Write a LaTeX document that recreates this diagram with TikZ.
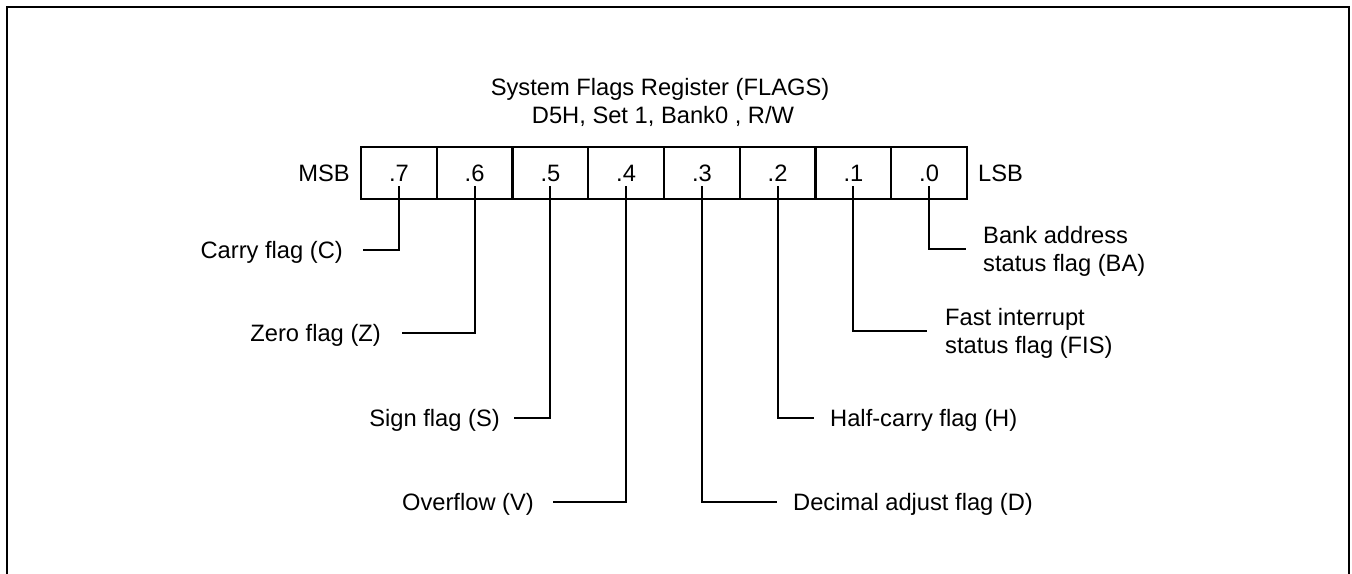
\documentclass[tikz,border=0pt]{standalone}
\usepackage{fontspec}
\setmainfont{Liberation Sans}
\begin{document}
\begin{tikzpicture}[x=1pt,y=-1pt,
  every node/.style={font=\fontsize{23.7pt}{28pt}\selectfont},
  cell/.style={draw, line width=2pt, minimum width=75.75pt, minimum height=52pt, inner sep=0pt, text height=17pt, text depth=0pt},
  lab/.style={inner sep=0pt, text height=17pt, text depth=0pt, align=left},
  lab2/.style={inner sep=0pt, text height=45pt, text depth=0pt, align=left},
  conn/.style={line width=2pt},
  frame/.style={line width=2.2pt}]
\useasboundingbox (0,0) rectangle (1352,573);
% outer frame (open at bottom edge of the view)
\draw[frame] (7,575) -- (7,7) -- (1349,7) -- (1349,575);
% title
\node[anchor=base] (t1) at (660,95) {System Flags Register (FLAGS)};
\node[anchor=base] (t2) at (663,123) {D5H, Set 1, Bank0 , R/W};
% register cells
\node[cell] (c7) at (398.9,173) {.7};
\node[cell] (c6) at (474.6,173) {.6};
\node[cell] (c5) at (550.4,173) {.5};
\node[cell] (c4) at (626.1,173) {.4};
\node[cell] (c3) at (701.9,173) {.3};
\node[cell] (c2) at (777.6,173) {.2};
\node[cell] (c1) at (853.4,173) {.1};
\node[cell] (c0) at (929.1,173) {.0};
\node[lab, anchor=east] (msb) at (350,173) {MSB};
\node[lab, anchor=west] (lsb) at (978,173) {LSB};
% start points of the connectors
\foreach \i in {0,...,7} { \coordinate (s\i) at ([yshift=14pt]c\i.south); }
% labels
\node[lab, anchor=east] (l7) at (343,250) {Carry flag (C)};
\node[lab, anchor=east] (l6) at (381,333) {Zero flag (Z)};
\node[lab, anchor=east] (l5) at (500,418) {Sign flag (S)};
\node[lab, anchor=east] (l4) at (534,502) {Overflow (V)};
\node[lab, anchor=west] (l3) at (793,502) {Decimal adjust flag (D)};
\node[lab, anchor=west] (l2) at (830,418) {Half-carry flag (H)};
\node[lab2, anchor=west] (l1) at (945,331) {Fast interrupt\\status flag (FIS)};
\node[lab2, anchor=west] (l0) at (983,249) {Bank address\\status flag (BA)};
% connectors
\draw[conn, shorten >=20pt] (s7) |- (l7.east);
\draw[conn, shorten >=21pt] (s6) |- (l6.east);
\draw[conn, shorten >=14pt] (s5) |- (l5.east);
\draw[conn, shorten >=19pt] (s4) |- (l4.east);
\draw[conn, shorten >=16pt] (s3) |- (l3.west);
\draw[conn, shorten >=16pt] (s2) |- (l2.west);
\draw[conn, shorten >=18pt] (s1) |- (l1.west);
\draw[conn, shorten >=17pt] (s0) |- (l0.west);
\end{tikzpicture}
\end{document}
